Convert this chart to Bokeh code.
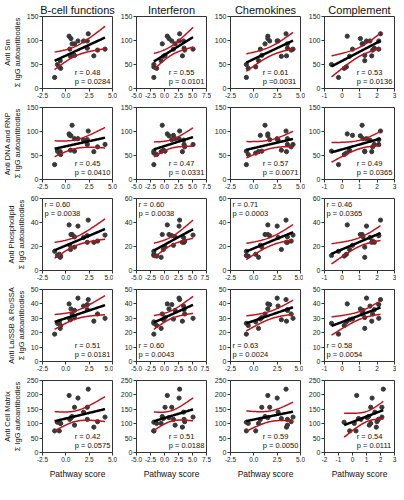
import numpy as np
from bokeh.plotting import figure
from bokeh.layouts import gridplot
from bokeh.models import Label, FixedTicker, NumeralTickFormatter, ColumnDataSource
from bokeh.embed import file_html
from bokeh.resources import INLINE

# ---------------- data ----------------
pathways = ["B-cell functions", "Interferon", "Chemokines", "Complement"]
antibodies = ["Anti Sm", "Anti DNA and RNP", "Anti Phospholipid",
              "Anti La/SSB & Ro/SSA", "Anti Cell Matrix"]
y_sub = "Σ IgG autoantibodies"
x_title = "Pathway score"

# pathway scores per patient
bcell = [-1.2, -0.9, -0.7, -0.55, -0.6, 0.35, 0.55, 0.67, 0.93, 0.42,
         0.5, 0.93, 1.3, 1.9, 2.4, 2.3, 2.3, 3.0, 3.4, 4.2]
ifn = [-1.9, -1.9, -1.9, -1.4, -0.6, 0.5, 0.8, -0.4, 1.9, 1.6,
       -0.2, 0.1, 2.6, 3.4, 2.7, 1.3, 3.5, 3.2, 3.6, 5.1]
chemo = [-0.8, -0.8, 0.2, -0.6, 0.5, 1.5, 1.5, 1.2, 3.6, 0.7,
         2.95, 0.85, 2.5, 2.6, 3.45, 1.7, 3.6, 3.5, 4.0, 4.2]
compl = [-0.2, -0.6, 0.25, 0.13, 1.3, 0.3, 1.05, 1.15, 1.2, 0.6,
         0.43, 1.3, 1.4, 1.6, 2.2, 2.1, 1.85, 1.7, 1.75, 2.1]

# summed IgG autoantibodies per patient
sm = [23, 50, 45, 42, 58, 109, 104, 93, 93, 82, 67, 69, 99, 99, 114, 99, 84, 68, 80, 82]
dna = [31, 59, 55, 52, 58, 95, 91, 113, 85, 92, 61, 59, 85, 82, 101, 83, 73, 58, 68, 73]
phos = [16, 12.5, 13.5, 12, 11, 38, 30, 30, 28, 21, 17.5, 19.5, 37, 27.5, 42, 29, 23.5, 23.5, 24.5, 29.5]
laro = [19, 26.5, 27.5, 25, 23, 40, 36.5, 33, 35.5, 29.5, 29, 30.5, 44, 38.5, 43, 39.5, 36, 28, 33, 30]
matrix = [75, 105, 75, 101, 101, 198, 121, 125, 95, 115, 118, 157, 189, 140, 220, 157, 115, 88, 107, 123]

x_ticks_bcell = [-2.5, 0.0, 2.5, 5.0]
x_ticks_ifn = [-5.0, -2.5, 0.0, 2.5, 5.0, 7.5]
x_ticks_chemo = [-2.5, 0.0, 2.5, 5.0]
x_ticks_compl = [-1, 0, 1, 2, 3]
x_ticks_compl_matrix = [-2, -1, 0, 1, 2, 3]

y_ticks_sm = [0, 50, 100, 150]
y_ticks_dna = [0, 50, 100, 150]
y_ticks_phos = [0, 20, 40, 60]
y_ticks_laro = [0, 10, 20, 30, 40, 50]
y_ticks_matrix = [0, 50, 100, 150, 200, 250]

r_text = [["r = 0.48", "r = 0.55", "r = 0.61", "r = 0.53"],
          ["r = 0.45", "r = 0.47", "r = 0.57", "r = 0.49"],
          ["r = 0.60", "r = 0.60", "r = 0.71", "r = 0.46"],
          ["r = 0.51", "r = 0.60", "r = 0.63", "r = 0.58"],
          ["r = 0.42", "r = 0.51", "r = 0.59", "r = 0.54"]]
p_text = [["p = 0.0284", "p = 0.0101", "p =0.0031", "p = 0.0136"],
          ["p = 0.0410", "p = 0.0331", "p = 0.0071", "p = 0.0365"],
          ["p = 0.0038", "p = 0.0038", "p = 0.0003", "p = 0.0365"],
          ["p = 0.0181", "p = 0.0043", "p = 0.0024", "p = 0.0054"],
          ["p = 0.0575", "p = 0.0188", "p = 0.0050", "p = 0.0111"]]

x_data = [bcell, ifn, chemo, compl]
y_data = [sm, dna, phos, laro, matrix]
x_ticks = [x_ticks_bcell, x_ticks_ifn, x_ticks_chemo, x_ticks_compl]
y_ticks = [y_ticks_sm, y_ticks_dna, y_ticks_phos, y_ticks_laro, y_ticks_matrix]

# ---------------- style ----------------
FONT = "Liberation Sans"
FW, FH = 70, 72
T975 = {18: 2.101}
corner = [["br"] * 4, ["br"] * 4, ["tl"] * 4, ["br", "bl", "bl", "bl"], ["br"] * 4]


def fit_band(x, y):
    x = np.asarray(x, float)
    y = np.asarray(y, float)
    n = len(x)
    b, a = np.polyfit(x, y, 1)
    xs = np.linspace(x.min(), x.max(), 60)
    yhat = a + b * xs
    resid = y - (a + b * x)
    s = np.sqrt(np.sum(resid ** 2) / (n - 2))
    sxx = np.sum((x - x.mean()) ** 2)
    t = T975.get(n - 2, 2.1)
    half = t * s * np.sqrt(1.0 / n + (xs - x.mean()) ** 2 / sxx)
    return xs, yhat, yhat - half, yhat + half


figs = []
for i in range(5):
    row = []
    for j in range(4):
        xt = x_ticks_compl_matrix if (i == 4 and j == 3) else x_ticks[j]
        yt = y_ticks[i]
        p = figure(frame_width=FW, frame_height=FH,
                   x_range=(xt[0], xt[-1]), y_range=(yt[0], yt[-1]),
                   output_backend="svg", toolbar_location=None, tools="",
                   min_border_left=(34 if j == 0 else 17),
                   min_border_right=(4 if j == 3 else 5),
                   min_border_top=(15 if i == 0 else 6),
                   min_border_bottom=(28 if i == 4 else 13),
                   title=(pathways[j] if i == 0 else None),
                   background_fill_color="white", border_fill_color="white")
        p.outline_line_color = "#333333"
        p.outline_line_width = 1
        p.xgrid.visible = False
        p.ygrid.visible = False
        if i == 0:
            p.title.align = "center"
            p.title.text_font = FONT
            p.title.text_font_size = "11px"
            p.title.text_font_style = "normal"
            p.title.text_color = "#111111"
            p.title.standoff = 2
            p.title.offset = 0

        for ax in (p.xaxis[0], p.yaxis[0]):
            ax.axis_line_color = "#333333"
            ax.major_tick_line_color = "#333333"
            ax.major_tick_out = 3
            ax.major_tick_in = 0
            ax.minor_tick_line_color = None
            ax.major_label_text_font = FONT
            ax.major_label_text_color = "#222222"
            ax.major_label_standoff = 1
        p.xaxis[0].major_label_text_font_size = "6.5px"
        p.yaxis[0].major_label_text_font_size = "7px"
        p.xaxis[0].ticker = FixedTicker(ticks=xt)
        p.yaxis[0].ticker = FixedTicker(ticks=yt)
        p.xaxis[0].formatter = NumeralTickFormatter(format=("0" if j == 3 else "0.0"))
        p.yaxis[0].formatter = NumeralTickFormatter(format="0")

        if j == 0:
            p.yaxis[0].axis_label = antibodies[i] + "\n" + y_sub
            p.yaxis[0].axis_label_text_font = FONT
            p.yaxis[0].axis_label_text_font_size = "7.5px"
            p.yaxis[0].axis_label_text_font_style = "normal"
            p.yaxis[0].axis_label_text_color = "#111111"
            p.yaxis[0].axis_label_standoff = 2
            p.yaxis[0].axis_label_text_line_height = 1.05
        if i == 4:
            p.xaxis[0].axis_label = x_title
            p.xaxis[0].axis_label_text_font = FONT
            p.xaxis[0].axis_label_text_font_size = "8.5px"
            p.xaxis[0].axis_label_text_font_style = "normal"
            p.xaxis[0].axis_label_text_color = "#111111"
            p.xaxis[0].axis_label_standoff = 4

        xs, yhat, lo, hi = fit_band(x_data[j], y_data[i])
        band = ColumnDataSource(dict(x=xs, yhat=yhat, lo=lo, hi=hi))
        p.scatter(x=x_data[j], y=y_data[i], size=4.2, color="#383838")
        p.line("x", "lo", source=band, line_color="#c0101a", line_width=1.5)
        p.line("x", "hi", source=band, line_color="#c0101a", line_width=1.5)
        p.line("x", "yhat", source=band, line_color="black", line_width=2.5)

        x0, x1 = xt[0], xt[-1]
        y0, y1 = yt[0], yt[-1]
        c = corner[i][j]
        line_frac = 9.0 / FH
        if c == "br":
            lx = x0 + 0.46 * (x1 - x0)
            ys = [y0 + (0.03 + line_frac) * (y1 - y0), y0 + 0.03 * (y1 - y0)]
            base = "bottom"
        elif c == "bl":
            lx = x0 + 0.03 * (x1 - x0)
            ys = [y0 + (0.03 + line_frac) * (y1 - y0), y0 + 0.03 * (y1 - y0)]
            base = "bottom"
        else:
            lx = x0 + 0.03 * (x1 - x0)
            ys = [y0 + 0.98 * (y1 - y0), y0 + (0.98 - line_frac) * (y1 - y0)]
            base = "top"
        for txt, yy in zip([r_text[i][j], p_text[i][j]], ys):
            p.add_layout(Label(x=lx, y=yy, text=txt, text_font=FONT,
                               text_font_size="7.5px", text_color="#111111",
                               text_align="left", text_baseline=base))
        row.append(p)
    figs.append(row)

grid = gridplot(figs, toolbar_location=None)
open("out.html", "w").write(file_html(grid, INLINE))
